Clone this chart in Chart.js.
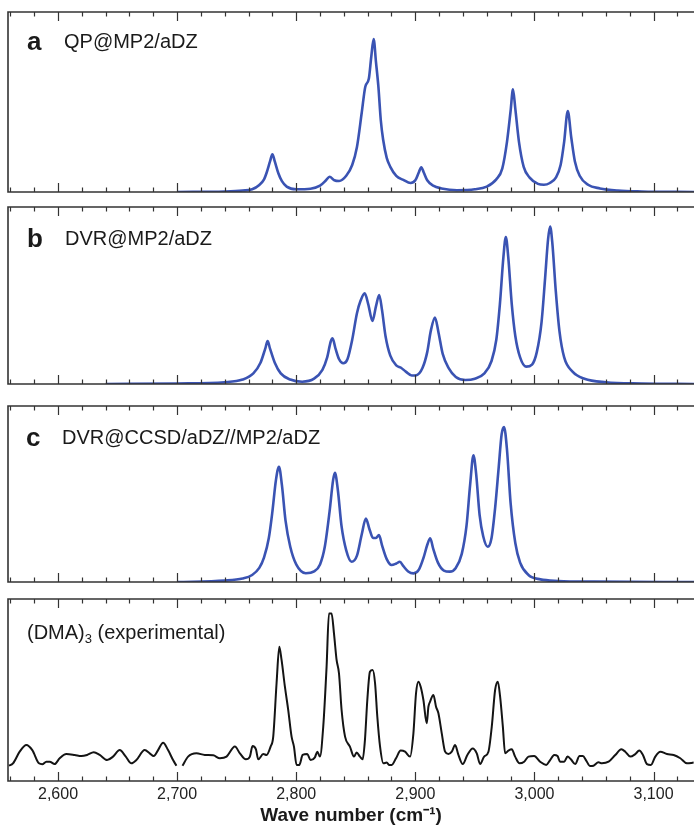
<!DOCTYPE html>
<html>
<head>
<meta charset="utf-8">
<script src="https://cdn.jsdelivr.net/npm/chart.js@4.4.1/dist/chart.umd.min.js"></script>
<style>
  body { margin: 0; background: #fff; }
  #wrap { position: relative; width: 694px; height: 831px; overflow: hidden; }
  canvas { position: absolute; left: 0; }
  .lbl { position: absolute; font-family: "Liberation Sans", Arial, sans-serif; font-size: 20px; line-height: 20px; color: #1a1a1a; white-space: nowrap; }
  .lbl b { font-size: 26px; position: absolute; left: 0; }
  .lbl span { position: absolute; }
  .lbl sub { font-size: 13px; vertical-align: -4px; }
</style>
</head>
<body>
<div id="wrap">
  <canvas id="panelA" width="694" height="200" style="top:0"></canvas>
  <canvas id="panelB" width="694" height="190" style="top:200px"></canvas>
  <canvas id="panelC" width="694" height="195" style="top:395px"></canvas>
  <canvas id="panelD" width="694" height="241" style="top:590px"></canvas>

  <div class="lbl" style="left:27px; top:31px"><b>a</b><span style="left:37px">QP@MP2/aDZ</span></div>
  <div class="lbl" style="left:27px; top:228px"><b>b</b><span style="left:38px">DVR@MP2/aDZ</span></div>
  <div class="lbl" style="left:26px; top:427px"><b>c</b><span style="left:36px">DVR@CCSD/aDZ//MP2/aDZ</span></div>
  <div class="lbl" style="left:27px; top:622px">(DMA)<sub>3</sub> (experimental)</div>
</div>

<script>
// wave number range shared by all panels
const xMin = 2558;
const xMax = 3134;
const tickLabels = [2600, 2700, 2800, 2900, 3000, 3100];

// a: QP@MP2/aDZ
const qpWave = [2700, 2740, 2755, 2763, 2769, 2773, 2775, 2778, 2780, 2782, 2785, 2788, 2792, 2800, 2812, 2820, 2825, 2828, 2832, 2836,
  2842, 2847, 2851, 2855, 2858, 2861, 2863, 2865, 2867, 2869, 2871, 2873, 2876, 2879, 2884, 2890, 2896, 2900, 2903, 2905,
  2907, 2910, 2915, 2922, 2935, 2950, 2960, 2968, 2973, 2977, 2980, 2982, 2984, 2987, 2991, 2996, 3003, 3008, 3013, 3018,
  3022, 3025, 3028, 3031, 3034, 3038, 3045, 3055, 3070, 3090, 3134];
const qpIntensity = [0, 0.3, 0.8, 1.5, 3.9, 7, 10.4, 17, 21, 17, 10.4, 6, 3, 1.5, 1.8, 3.5, 6.5, 8.5, 6.5, 6.1,
  9, 15, 25, 44, 58.5, 63, 75, 85, 72, 58.5, 40, 29, 19, 14, 9, 6.7, 5, 6.5, 11, 13.7,
  11, 6.5, 3.5, 2, 1, 1.5, 3, 7, 13, 28, 45, 57, 46, 28, 14, 8, 4.5, 4, 5, 8,
  15, 28, 45, 30, 17, 9, 4, 2, 0.8, 0.3, 0];

// b: DVR@MP2/aDZ
const dvrWave = [2640, 2700, 2740, 2755, 2764, 2770, 2774, 2776, 2778, 2782, 2787, 2795, 2805, 2815, 2822, 2826, 2829, 2830.5, 2833, 2836,
  2839.5, 2843, 2847, 2851, 2854, 2857.5, 2860.5, 2864, 2867, 2869.7, 2872, 2875, 2879, 2884, 2888, 2892, 2897, 2901, 2906, 2910,
  2913, 2916.5, 2919.5, 2923, 2928, 2934, 2942, 2950, 2958, 2964, 2968, 2971, 2974, 2976, 2978, 2981, 2984, 2988, 2993, 2998,
  3002, 3006, 3009, 3011.5, 3013.2, 3015, 3018, 3021, 3025, 3032, 3042, 3060, 3090, 3134];
const dvrIntensity = [0, 0.3, 1, 2.5, 6, 12, 20, 24.3, 20, 12, 6, 2.5, 1.3, 3, 8, 15, 24, 25.8, 20, 14,
  11.7, 14, 25, 40, 47, 51.2, 45, 35.6, 44, 50.3, 42, 27, 16, 10.5, 9.2, 7, 4.8, 5, 9, 18,
  30, 37.5, 29, 17, 9, 4, 2.3, 3, 6, 13, 25, 45, 72, 83, 72, 45, 27, 15, 9.8, 11,
  18, 35, 60, 82, 89, 80, 52, 30, 15, 7, 3, 1, 0.3, 0];

// c: DVR@CCSD/aDZ//MP2/aDZ
const ccWave = [2700, 2740, 2755, 2763, 2769, 2773, 2777, 2780, 2783, 2785.5, 2788, 2791, 2795, 2800, 2808, 2815, 2820, 2824, 2828, 2831,
  2832.5, 2835, 2838, 2842, 2846.5, 2851, 2855, 2858.5, 2861.5, 2864.5, 2867, 2869.5, 2872, 2876, 2880, 2884, 2887, 2890, 2894, 2898.5,
  2903, 2907, 2910, 2912.5, 2915, 2919, 2924, 2929, 2934, 2939, 2943, 2946, 2948.8, 2951, 2954, 2957, 2960.8, 2964, 2967, 2970,
  2972.5, 2974.5, 2977, 2980, 2984, 2988, 2995, 3005, 3020, 3050, 3134];
const ccIntensity = [0, 0.8, 2, 4, 8, 14, 25, 40, 58, 65.5, 55, 35, 20, 10, 5, 6, 10, 20, 40, 58,
  62, 52, 32, 18, 11.5, 15, 27, 36, 30, 25, 25, 26.7, 21, 13, 9.7, 10.5, 11.5, 9, 6, 4.9,
  7, 14, 21, 24.8, 19, 11, 6.5, 5.9, 8, 16, 32, 55, 72, 62, 38, 26, 20, 25, 42, 65,
  84, 88, 75, 45, 22, 11, 4, 1.5, 0.6, 0.2, 0];

// d: (DMA)3 experimental trace, null marks the break near 2,700
const expWave = [2558.8, 2562.2, 2567.8, 2573.4, 2578.4, 2584, 2586.8, 2590.2, 2593, 2597.2, 2601.4, 2607, 2614, 2619.6, 2624.4, 2630, 2635, 2641.2, 2646.2, 2651.8,
  2656.9, 2661.6, 2665.8, 2672.8, 2677, 2680.4, 2684, 2688.2, 2692.4, 2696.6, 2699.4, 2702, 2704.5, 2709.2, 2716.2, 2723.2, 2730.3, 2735.9, 2741.5, 2748.5,
  2752.7, 2757.7, 2761.1, 2763.3, 2766.2, 2768.1, 2772.3, 2775.1, 2778.5, 2780.7, 2783.5, 2785.8, 2787.7, 2790.5, 2793.3, 2796.1, 2798.1, 2800.3, 2802.6, 2805.4,
  2809.3, 2812.1, 2815.7, 2817.7, 2819.9, 2822.7, 2825.5, 2827.5, 2829.7, 2831.7, 2833.9, 2835.9, 2838.1, 2841, 2845.1, 2848.5, 2850.7, 2853.5, 2855.8, 2857.7,
  2859.7, 2861.9, 2864.2, 2866.2, 2868.1, 2870.4, 2873.2, 2876, 2878.2, 2880.2, 2883.8, 2887.7, 2891.4, 2895.6, 2898.4, 2900.6, 2902.6, 2904.5, 2906.8, 2909.6,
  2911, 2912.4, 2915.2, 2917.4, 2919.4, 2922.2, 2925, 2927.8, 2930.6, 2933.4, 2936.2, 2939.8, 2943.7, 2948.2, 2951.6, 2954.4, 2957.8, 2961.4, 2964.2, 2967,
  2969.3, 2971.2, 2973.5, 2975.4, 2978.2, 2981, 2983.8, 2987.5, 2991.4, 2995, 2999.8, 3004.8, 3009.9, 3013.2, 3016.6, 3019.4, 3021.6, 3025, 3027.8, 3030.6,
  3034.2, 3037.9, 3040.7, 3043.5, 3046.8, 3049.6, 3053.8, 3056.7, 3062.3, 3067.9, 3073, 3076.3, 3080.5, 3084.7, 3088, 3091.1, 3094.5, 3097.8, 3101.5, 3105.7,
  3111.3, 3116.9, 3122.5, 3128.1, 3133.7];
const expIntensity = [8.4, 9.7, 16.1, 19.8, 17, 9.7, 9.2, 10.6, 10.6, 9.3, 12.5, 14.8, 14.3, 13.7, 14.3, 15.8, 14.3, 11.5, 13.4, 17,
  13.4, 9.7, 11.5, 17, 15.2, 13.7, 17, 21, 17, 11.5, 8.4, null, 8.4, 13.4, 15.2, 14.3, 14.1, 12.5, 13.4, 18.9,
  15.2, 11.9, 13.4, 19.2, 17.4, 11.9, 14.8, 14.3, 18.9, 24.4, 53.7, 73.8, 66.5, 51.8, 39, 24.4, 18.9, 8.8, 8.8, 14.3,
  14.8, 11.5, 13, 16.1, 13.4, 29.9, 62.8, 92.1, 92.1, 81.1, 66.5, 59.2, 39, 24.4, 18.9, 13.4, 15.6, 13.4, 11.9, 22.5,
  44.5, 60, 61, 53.7, 35.3, 18.9, 9.7, 10.1, 8.8, 8.8, 12.5, 16.7, 16.1, 13.4, 26.2, 48.2, 54.6, 51.8, 44.5, 31.7,
  40.8, 43.6, 47.3, 40.8, 37.2, 26.2, 16.1, 14.8, 16.1, 19.8, 14.3, 9.3, 14.3, 17.9, 15.2, 9.3, 13.4, 16.1, 29.9, 50,
  54.6, 46.3, 29.9, 15.2, 16.7, 17.4, 13.4, 9.7, 10.6, 13.4, 13.7, 10.6, 8.8, 11.5, 14.3, 13.7, 10.6, 10.6, 13.4, 11.9,
  9.3, 13.7, 13.7, 11.2, 8.2, 8.4, 10.3, 9.7, 10.6, 14.3, 17.4, 16.1, 13.4, 14.8, 16.7, 14.3, 9.3, 8.8, 13.4, 16.1,
  14.8, 14.3, 12.5, 9.7, 10.1];

const blue = '#3a53b3';
const black = '#141414';

const toPoints = (xs, ys) => xs.map((x, i) => ({ x: x, y: ys[i] }));

// frame on three sides plus inward tick marks every 20 cm-1
const frameTicks = {
  id: 'frameTicks',
  afterDatasetsDraw(chart) {
    const { ctx, chartArea: a } = chart;
    const x = chart.scales.x;
    ctx.save();
    ctx.strokeStyle = '#333';
    ctx.lineWidth = 1.6;
    ctx.beginPath();
    ctx.moveTo(a.right, a.top);
    ctx.lineTo(a.left, a.top);
    ctx.lineTo(a.left, a.bottom);
    ctx.lineTo(a.right, a.bottom);
    ctx.stroke();
    ctx.lineWidth = 1.2;
    ctx.beginPath();
    for (let v = 2560; v <= 3120; v += 20) {
      const px = Math.round(x.getPixelForValue(v)) + 0.5;
      const len = v % 100 === 0 ? 9 : 4.5;
      ctx.moveTo(px, a.top);
      ctx.lineTo(px, a.top + len);
      ctx.moveTo(px, a.bottom);
      ctx.lineTo(px, a.bottom - len);
    }
    ctx.stroke();
    ctx.restore();
  }
};

function makePanel(id, wave, intensity, color, width, padding, withAxis) {
  const ctx = document.getElementById(id).getContext('2d');
  const xScale = {
    type: 'linear',
    min: xMin,
    max: xMax,
    display: withAxis,
    grid: { display: false, drawTicks: false },
    border: { display: false }
  };
  if (withAxis) {
    // only the bottom panel carries tick labels and the axis title
    Object.assign(xScale, {
      afterBuildTicks: s => { s.ticks = tickLabels.map(v => ({ value: v })); },
      afterFit: s => { s.height = 50; },
      ticks: {
        padding: 4,
        maxRotation: 0,
        color: '#222',
        font: { family: 'Liberation Sans', size: 16 },
        callback: v => v.toLocaleString('en-US')
      },
      title: {
        display: true,
        text: 'Wave number (cm\u207B\u00B9)',
        color: '#1a1a1a',
        font: { family: 'Liberation Sans', size: 19, weight: 'bold' },
        padding: { top: 0, bottom: 4 }
      }
    });
  }
  return new Chart(ctx, {
    type: 'line',
    data: {
      datasets: [{
        data: toPoints(wave, intensity),
        borderColor: color,
        borderWidth: width,
        pointRadius: 0,
        fill: false,
        spanGaps: false,
        cubicInterpolationMode: 'monotone'
      }]
    },
    options: {
      responsive: false,
      animation: false,
      devicePixelRatio: 1,
      layout: { padding: padding },
      plugins: { legend: { display: false }, tooltip: { enabled: false } },
      scales: {
        x: xScale,
        y: { min: 0, max: 100, display: false }
      }
    },
    plugins: [frameTicks]
  });
}

makePanel('panelA', qpWave, qpIntensity, blue, 2.6, { left: 8, right: 0, top: 12, bottom: 8 }, false);
makePanel('panelB', dvrWave, dvrIntensity, blue, 2.6, { left: 8, right: 0, top: 7, bottom: 6 }, false);
makePanel('panelC', ccWave, ccIntensity, blue, 2.6, { left: 8, right: 0, top: 11, bottom: 8 }, false);
makePanel('panelD', expWave, expIntensity, black, 2, { left: 8, right: 0, top: 9, bottom: 0 }, true);
</script>
</body>
</html>
